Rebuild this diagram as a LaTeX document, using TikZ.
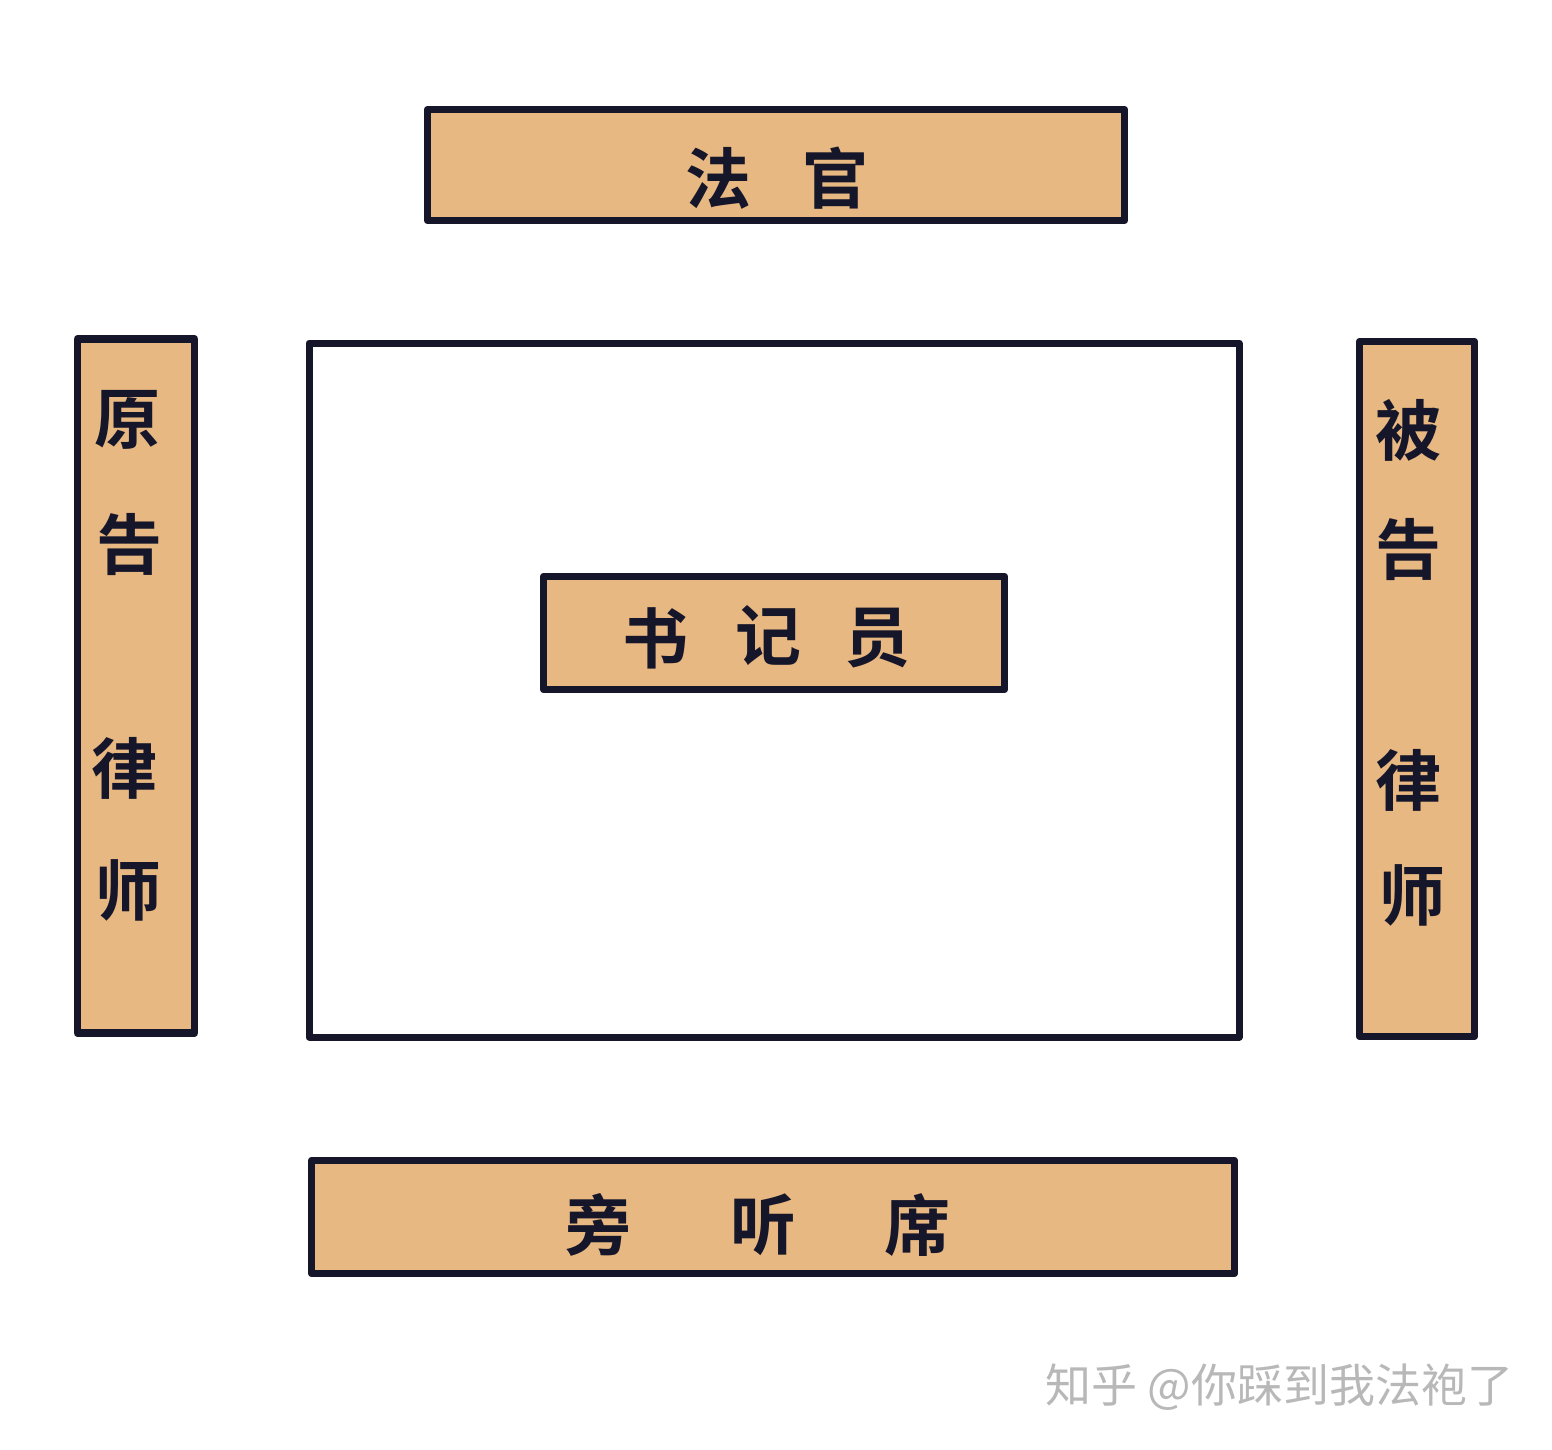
\documentclass[tikz,border=0pt]{standalone}
\usepackage{fontspec}
\newfontfamily\cjk{Noto Sans CJK SC}[BoldFont={* Bold}]
\newfontfamily\cjkb{Noto Sans CJK SC Bold}
\definecolor{wood}{HTML}{E8B882}
\definecolor{ink}{HTML}{16162A}
\definecolor{wm}{HTML}{B8B8B8}
\begin{document}
\begin{tikzpicture}[x=0.5pt,y=-0.5pt,
  bench/.style={draw=ink,fill=wood,line width=3.8pt,rectangle,inner sep=0pt,line join=round},
  ch/.style={font=\cjkb\fontsize{33}{37}\selectfont,text=ink,inner sep=0pt},
  wmark/.style={font=\cjk\fontsize{23}{27}\selectfont,text=wm,inner sep=0pt,anchor=west}]
\useasboundingbox[fill=white] (0,0) rectangle (1552,1450);
% benches
\node[bench,minimum width=348.5pt,minimum height=55.5pt] (judge) at (776,165) {};
\node[bench,minimum width=58.5pt,minimum height=347pt] (plaintiff) at (136,686) {};
\node[bench,minimum width=57.5pt,minimum height=347.5pt] (defendant) at (1417,689) {};
\node[draw=ink,line width=3.5pt,rectangle,inner sep=0pt,minimum width=465pt,minimum height=347pt,line join=round] (court) at (774,690) {};
\node[bench,minimum width=230.5pt,minimum height=56.5pt] (clerk) at (774,633) {};
\node[bench,minimum width=461.5pt,minimum height=56.5pt] (gallery) at (773,1217) {};
% texts
\node[ch] (j1) at (718,178) {法};
\node[ch] (j2) at (835,178) {官};
\node[ch] (p1) at (127,420) {原};
\node[ch] (p2) at (129,545) {告};
\node[ch] (p3) at (124,768) {律};
\node[ch] (p4) at (128,890) {师};
\node[ch] (d1) at (1408,430) {被};
\node[ch] (d2) at (1408,550) {告};
\node[ch] (d3) at (1408,780) {律};
\node[ch] (d4) at (1412,895) {师};
\node[ch] (c1) at (655,638) {书};
\node[ch] (c2) at (768,636) {记};
\node[ch] (c3) at (877,638) {员};
\node[ch] (g1) at (598,1225) {旁};
\node[ch] (g2) at (763,1225) {听};
\node[ch] (g3) at (917,1225) {席};
\node[wmark] (wm) at (1045,1387) {知乎 @你踩到我法袍了};
\end{tikzpicture}
\end{document}
